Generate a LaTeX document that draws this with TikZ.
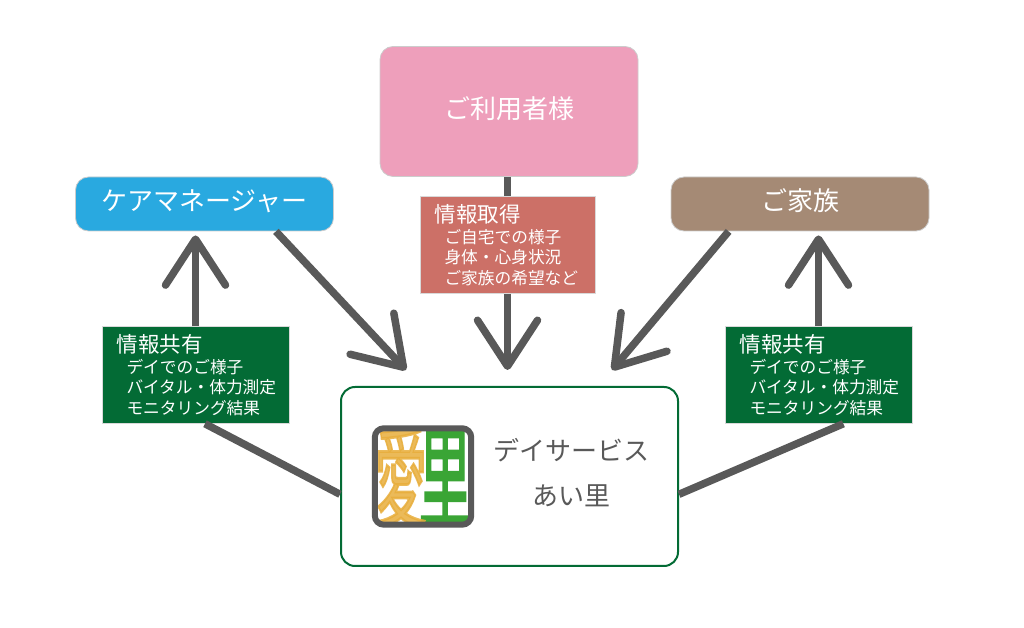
\documentclass[tikz,border=0pt]{standalone}
\usepackage{fontspec}
\setmainfont{Noto Sans CJK JP}
\newfontfamily\logofont[FakeBold=2.5]{Noto Sans CJK JP}
\usetikzlibrary{arrows.meta,positioning}
\definecolor{carecol}{HTML}{29A9E0}
\definecolor{usercol}{HTML}{EE9FBB}
\definecolor{familycol}{HTML}{A58A75}
\definecolor{infocol}{HTML}{CC7067}
\definecolor{sharecol}{HTML}{036B35}
\definecolor{linecol}{HTML}{595959}
\definecolor{logoorange}{HTML}{E8AE3C}
\definecolor{logogreen}{HTML}{3AA535}
\newcommand{\bigsize}{\fontsize{26}{30}\selectfont}
\newcommand{\namesize}{\fontsize{26}{45}\selectfont}
\newcommand{\headsize}{\fontsize{21.5}{23}\selectfont}
\newcommand{\subsize}{\fontsize{16.7}{20.5}\selectfont}
\newcommand{\logosize}{\logofont\fontsize{112}{112}\selectfont}
\newcommand{\subline}[1]{\hspace*{10pt}#1}
\tikzset{
  party/.style={draw=black!20,line width=.8pt,rounded corners=13pt,text=white,font=\bigsize,
    text height=20pt,text depth=6pt,minimum width=258pt,minimum height=54pt},
  infobox/.style={draw=white!85!black,line width=.5pt,text=white,font=\subsize,align=left,
    text width=158pt,inner xsep=14.5pt,inner ysep=0pt,minimum height=97pt},
  link/.style={draw=linecol,line width=7.5pt},
  flow/.style={link,-{Straight Barb[length=46pt,width=60pt,round]}},
  logotext/.style={font=\logosize,xscale=.47,transform shape,inner sep=0pt}
}

\begin{document}
\begin{tikzpicture}[x=1pt,y=1pt,on grid]
 \useasboundingbox (0,0) rectangle (1024,628);
 \node[party,fill=usercol,minimum height=130pt] (user) at (509,516.5) {ご利用者様};
 \node[party,fill=carecol] (care) [below left=92.5pt and 304.5pt of user] {ケアマネージャー};
 \node[party,fill=familycol] (family) [below right=92.5pt and 291pt of user] {ご家族};
 \node[draw=sharecol,line width=2pt,rounded corners=14pt,fill=white,minimum width=337pt,
   minimum height=179pt] (day) at (509.5,151.5) {};
 \node[text=linecol,font=\namesize,align=center] (dayname) [above right=4pt and 61.5pt of day] {デイサービス\\あい里};
 \coordinate (tipL) at (406,258);
 \coordinate (tipC) at (507.5,258);
 \coordinate (tipR) at (612,258);
 \node[infobox,text width=146pt,fill=infocol] (info) [below left=133.5pt and 1.5pt of user] {{\headsize 情報取得}\\
   \subline{ご自宅での様子}\\\subline{身体・心身状況}\\\subline{ご家族の希望など}};
 \node[infobox,fill=sharecol] (shareL) [above left=101.5pt and 314pt of day] {{\headsize 情報共有}\\
   \subline{デイでのご様子}\\\subline{バイタル・体力測定}\\\subline{モニタリング結果}};
 \node[infobox,fill=sharecol] (shareR) [above right=101.5pt and 309pt of day] {{\headsize 情報共有}\\
   \subline{デイでのご様子}\\\subline{バイタル・体力測定}\\\subline{モニタリング結果}};
 \draw[link] (user.south -| info.north) -- (info.north);
 \draw[flow] (info.south) -- (tipC);
 \draw[flow] (care.-21.5) -- (tipL);
 \draw[flow] (family.201.5) -- (tipR);
 \draw[flow,shorten >=4pt] (shareL.north) -- (shareL.north |- care.south);
 \draw[flow,shorten >=4pt] (shareR.north) -- (shareR.north |- family.south);
 \draw[link] (shareL.-79) -- (day.186.6);
 \draw[link] (shareR.-63.4) -- (day.-6.6);
 % logo
 \node[minimum size=96pt] (logo) [left=86.5pt of day] {};
 \begin{scope}
  \clip[rounded corners=8pt] (logo.south west) rectangle (logo.north east);
  \node[logotext,text=logogreen] (logoB) at (445,151) {里};
  \node[logotext,text=logoorange,opacity=.85] (logoA) at (401,151) {愛};
 \end{scope}
 \draw[linecol,line width=6pt,rounded corners=9pt] (logo.south west) rectangle (logo.north east);
\end{tikzpicture}
\end{document}
